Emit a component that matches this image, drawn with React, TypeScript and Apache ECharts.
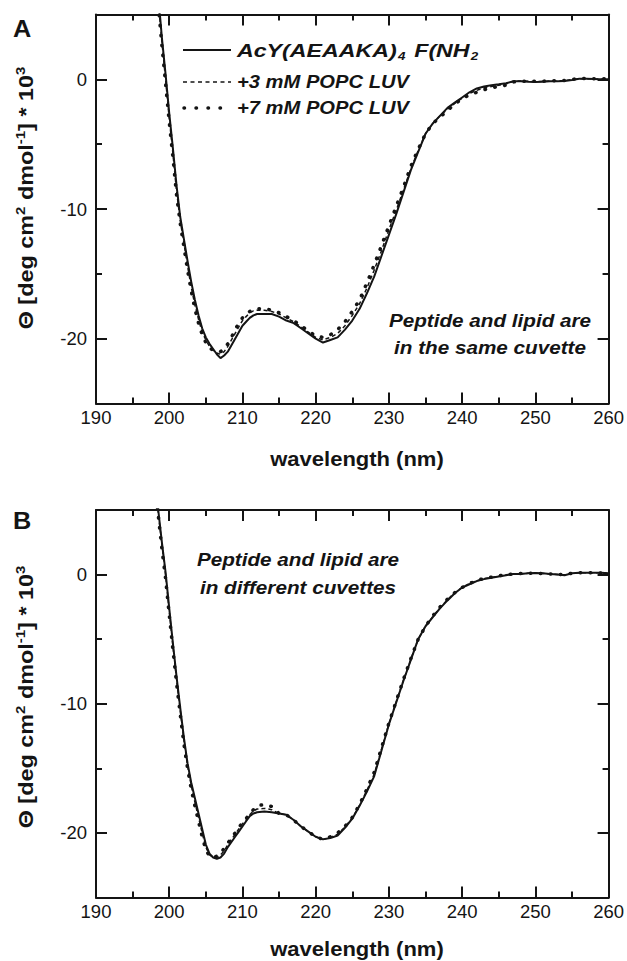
import React, { useEffect, useRef } from "react";
import * as echarts from "echarts";

// wavelength (nm)
const wavelengths = [
  198, 198.5, 199, 199.5, 200, 200.5, 201, 201.5, 202, 202.5, 203, 203.5, 204, 204.5, 205, 205.5,
  206, 206.5, 207, 207.5, 208, 208.5, 209, 209.5, 210, 210.5, 211, 211.5, 212,
  213, 214, 215, 216, 217, 218, 219, 220, 221, 222, 223, 224, 225, 226, 227, 228, 229, 230,
  231, 232, 233, 234, 235, 236, 237, 238, 239, 240, 241, 242, 243, 244, 245, 246, 247, 248,
  249, 250, 251, 252, 253, 254, 255, 256, 257, 258, 259, 260,
];

// Panel A: peptide and lipid in the same cuvette
const peptideA = [
  9, 6.5, 3.2, 0.4, -2.6, -5.3, -8.2, -10.6, -12.3, -14.0, -15.6, -17.0, -18.2, -19.2, -19.9, -20.4,
  -20.8, -21.2, -21.5, -21.3, -21.0, -20.5, -20.0, -19.5, -19.0, -18.7, -18.4, -18.2, -18.1,
  -18.1, -18.1, -18.3, -18.6, -18.8, -19.2, -19.6, -20.0, -20.3, -20.1, -19.9, -19.3, -18.6, -17.7, -16.5, -15.2, -13.6, -12.0,
  -10.4, -8.7, -7.0, -5.6, -4.2, -3.4, -2.8, -2.2, -1.8, -1.4, -1.0, -0.7, -0.55, -0.45, -0.38, -0.3, -0.15, -0.15,
  -0.18, -0.2, -0.18, -0.15, -0.15, -0.12, -0.05, 0.05, 0.05, 0.02, 0.0, 0.0,
];
const popc3A = [
  8.5, 6.1, 2.9, 0.0, -3.0, -5.7, -8.6, -10.9, -12.6, -14.4, -16.0, -17.4, -18.5, -19.5, -20.1, -20.6,
  -20.9, -21.1, -21.2, -21.0, -20.6, -20.1, -19.6, -19.1, -18.6, -18.3, -18.0, -17.85, -17.8,
  -17.8, -17.9, -18.1, -18.4, -18.7, -19.1, -19.5, -19.9, -20.1, -19.9, -19.6, -19.0, -18.2, -17.3, -16.1, -14.7, -13.2, -11.6,
  -10.1, -8.5, -6.9, -5.5, -4.2, -3.4, -2.8, -2.3, -1.85, -1.45, -1.1, -0.85, -0.65, -0.55, -0.45, -0.35, -0.15, -0.12,
  -0.15, -0.18, -0.15, -0.12, -0.12, -0.1, -0.02, 0.05, 0.05, 0.03, 0.02, 0.02,
];
const popc7A = [
  8, 5.8, 2.6, -0.3, -3.3, -6.0, -8.9, -11.1, -12.9, -14.7, -16.3, -17.7, -18.8, -19.7, -20.3, -20.7,
  -20.9, -21.0, -21.0, -20.8, -20.4, -19.9, -19.3, -18.8, -18.4, -18.1, -17.9, -17.75, -17.7,
  -17.7, -17.8, -18.0, -18.3, -18.6, -19.0, -19.4, -19.8, -19.9, -19.7, -19.3, -18.7, -17.9, -17.0, -15.7, -14.3, -12.8, -11.3,
  -9.8, -8.3, -6.7, -5.4, -4.2, -3.4, -2.9, -2.4, -1.9, -1.5, -1.2, -1.0, -0.8, -0.65, -0.55, -0.45, -0.2, -0.15,
  -0.15, -0.15, -0.15, -0.1, -0.1, -0.08, 0.0, 0.05, 0.08, 0.05, 0.05, 0.05,
];

// Panel B: peptide and lipid in different cuvettes
const peptideB = [
  8, 5, 2.5, 0.2, -2.6, -5.3, -7.9, -10.3, -12.6, -14.6, -16.1, -17.3, -18.5, -19.7, -20.9, -21.6,
  -21.9, -22.0, -21.9, -21.6, -21.1, -20.7, -20.3, -19.9, -19.5, -19.1, -18.7, -18.5, -18.4,
  -18.35, -18.4, -18.5, -18.6, -19.0, -19.5, -19.9, -20.3, -20.5, -20.4, -20.2, -19.6, -18.9, -17.9, -16.8, -15.6, -13.6, -11.6,
  -9.9, -8.2, -6.6, -5.0, -4.0, -3.3, -2.6, -2.0, -1.45, -1.0, -0.75, -0.5, -0.35, -0.25, -0.15, -0.05, 0.05, 0.05,
  0.1, 0.12, 0.1, 0.05, 0.0, -0.05, 0.1, 0.15, 0.15, 0.15, 0.15, 0.1,
];
const popc3B = [
  7.8, 4.8, 2.3, 0.0, -2.8, -5.5, -8.1, -10.5, -12.8, -14.8, -16.3, -17.6, -18.8, -20.0, -21.1, -21.7,
  -21.9, -21.9, -21.7, -21.4, -20.9, -20.5, -20.1, -19.7, -19.3, -19.0, -18.6, -18.3, -18.15,
  -18.1, -18.2, -18.5, -18.6, -19.0, -19.5, -19.9, -20.3, -20.5, -20.35, -20.1, -19.55, -18.85, -17.85, -16.7, -15.45, -13.5, -11.55,
  -9.85, -8.15, -6.55, -5.0, -4.0, -3.25, -2.55, -1.95, -1.4, -1.0, -0.7, -0.48, -0.32, -0.22, -0.12, -0.02, 0.05, 0.06,
  0.1, 0.11, 0.09, 0.05, 0.01, -0.02, 0.1, 0.15, 0.15, 0.15, 0.13, 0.1,
];
const popc7B = [
  7.5, 4.6, 2.0, -0.3, -3.1, -5.8, -8.4, -10.8, -13.1, -15.0, -16.6, -17.9, -19.1, -20.3, -21.3, -21.8,
  -21.9, -21.8, -21.6, -21.2, -20.8, -20.4, -20.0, -19.6, -19.2, -18.9, -18.5, -18.2, -17.9,
  -17.8, -17.95, -18.5, -18.6, -19.0, -19.5, -19.9, -20.3, -20.5, -20.3, -20.0, -19.5, -18.8, -17.8, -16.6, -15.3, -13.4, -11.5,
  -9.8, -8.1, -6.5, -5.0, -4.0, -3.2, -2.5, -1.9, -1.4, -1.0, -0.7, -0.45, -0.3, -0.2, -0.1, 0.0, 0.05, 0.08,
  0.1, 0.1, 0.08, 0.05, 0.02, 0.0, 0.1, 0.15, 0.15, 0.15, 0.12, 0.1,
];

const yMajorTicks = [-20, -10, 0];
const yMinorTicks = [-15, -5];
const legendLabels = ["AcY(AEAAKA){sub|4} F(NH{sub|2}", "+3 mM POPC LUV", "+7 mM POPC LUV"];
const yAxisTitle = "Θ [deg cm{sup|2} dmol{sup|-1}] * 10{sup|3}";

const FONT = '"Liberation Sans", Arial, Helvetica, sans-serif';
const INK = "#141414";

const pairs = (ys: number[]) => wavelengths.map((x, i) => [x, ys[i]]);

function makeXAxes(gi: number) {
  const base = {
    gridIndex: gi,
    type: "value",
    min: 190,
    max: 260,
    interval: 10,
    axisLine: { show: true, onZero: false, lineStyle: { color: INK, width: 2 } },
    axisTick: { show: true, inside: true, length: 11, lineStyle: { color: INK, width: 2 } },
    minorTick: { show: true, splitNumber: 2, length: 6, lineStyle: { color: INK, width: 2 } },
    splitLine: { show: false },
    minorSplitLine: { show: false },
  };
  return [
    {
      ...base,
      position: "bottom",
      axisLabel: {
        show: true,
        fontSize: 18.5,
        fontFamily: FONT,
        color: INK,
        margin: 4,
        showMinLabel: true,
        showMaxLabel: true,
      },
    },
    { ...base, position: "top", axisLabel: { show: false } },
  ];
}

function makeYAxes(gi: number) {
  const line = { show: true, onZero: false, lineStyle: { color: INK, width: 2 } };
  const base = { gridIndex: gi, type: "value", min: -25, max: 5, splitLine: { show: false } };
  const major = (pos: string, label: boolean) => ({
    ...base,
    position: pos,
    axisLine: line,
    axisTick: {
      show: true,
      inside: true,
      length: 11,
      customValues: yMajorTicks,
      lineStyle: { color: INK, width: 2 },
    },
    axisLabel: label
      ? {
          show: true,
          customValues: yMajorTicks,
          fontSize: 18.5,
          fontFamily: FONT,
          color: INK,
          margin: 9,
        }
      : { show: false },
  });
  const minor = (pos: string) => ({
    ...base,
    position: pos,
    axisLine: { show: false },
    axisTick: {
      show: true,
      inside: true,
      length: 6,
      customValues: yMinorTicks,
      lineStyle: { color: INK, width: 2 },
    },
    axisLabel: { show: false },
  });
  return [major("left", true), minor("left"), major("right", false), minor("right")];
}

function series(data: number[], kind: string, xi: number, yi: number) {
  const ls: any = { color: INK };
  if (kind === "solid") {
    ls.width = 2;
    ls.type = "solid";
  } else if (kind === "dashed") {
    ls.width = 1.5;
    ls.type = [4, 3];
  } else {
    ls.width = 3.5;
    ls.type = [0.5, 9.5];
    ls.cap = "round";
  }
  return {
    type: "line",
    xAxisIndex: xi,
    yAxisIndex: yi,
    data: pairs(data),
    showSymbol: false,
    symbol: "none",
    clip: true,
    lineStyle: ls,
    z: kind === "solid" ? 4 : 3,
  };
}

function txt(x: number, y: number, text: string, extra: any = {}, align = "center", scaleX = 1.15) {
  return {
    type: "text",
    x,
    y,
    scaleX,
    style: {
      text,
      fill: INK,
      fontFamily: FONT,
      fontWeight: "bold",
      fontSize: 18,
      textAlign: align,
      align,
      textVerticalAlign: "middle",
      verticalAlign: "middle",
      ...extra,
    },
  };
}

export default function App() {
  const ref = useRef<HTMLDivElement>(null);
  useEffect(() => {
    if (!ref.current) return;
    const chart = echarts.init(ref.current, undefined, { renderer: "svg" });
    const legendRich = {
      sub: {
        fontSize: 11,
        fontWeight: "bold",
        fontStyle: "italic",
        fontFamily: FONT,
        fill: INK,
        verticalAlign: "bottom",
        lineHeight: 11,
        padding: [0, 2, 0, 1],
      },
    };
    const supRich = {
      sup: {
        fontSize: 12.5,
        fontWeight: "bold",
        fontFamily: FONT,
        fill: INK,
        verticalAlign: "top",
        lineHeight: 12,
      },
    };
    const yTitleStyle = { fontSize: 19.5, lineHeight: 25, rich: supRich };
    const graphic: any[] = [
      txt(22, 29, "A", { fontSize: 23 }, "center", 1.1),
      txt(22, 521, "B", { fontSize: 23 }, "center", 1.1),
      { ...txt(27, 198, yAxisTitle, yTitleStyle, "center", 1.2), rotation: Math.PI / 2 },
      { ...txt(27, 697, yAxisTitle, yTitleStyle, "center", 1.2), rotation: Math.PI / 2 },
      txt(357, 459, "wavelength (nm)", { fontSize: 20 }, "center", 1.1),
      txt(357, 949, "wavelength (nm)", { fontSize: 20 }, "center", 1.1),
      // legend samples
      { type: "line", shape: { x1: 183, y1: 50, x2: 231, y2: 50 }, style: { stroke: INK, lineWidth: 2 } },
      {
        type: "line",
        shape: { x1: 183, y1: 82, x2: 231, y2: 82 },
        style: { stroke: INK, lineWidth: 1.5, lineDash: [4, 3.5] },
      },
      {
        type: "line",
        shape: { x1: 184, y1: 108, x2: 231, y2: 108 },
        style: { stroke: INK, lineWidth: 3.5, lineDash: [0.5, 11.5], lineCap: "round" },
      },
      txt(237, 50, legendLabels[0], { fontSize: 19, fontStyle: "italic", lineHeight: 24, rich: legendRich }, "left", 1.22),
      txt(237, 82, legendLabels[1], { fontStyle: "italic" }, "left", 1.12),
      txt(237, 108, legendLabels[2], { fontStyle: "italic" }, "left", 1.12),
      // annotations
      txt(490, 321, "Peptide and lipid are", { fontStyle: "italic" }),
      txt(490, 348, "in the same cuvette", { fontStyle: "italic" }),
      txt(298, 560, "Peptide and lipid are", { fontStyle: "italic" }),
      txt(298, 588, "in different cuvettes", { fontStyle: "italic" }),
    ];
    chart.setOption({
      animation: false,
      backgroundColor: "#ffffff",
      grid: [
        { left: 96, top: 14.5, width: 515, height: 389, containLabel: false },
        { left: 96, top: 510, width: 515, height: 387.5, containLabel: false },
      ],
      xAxis: [...makeXAxes(0), ...makeXAxes(1)],
      yAxis: [...makeYAxes(0), ...makeYAxes(1)],
      series: [
        series(popc7A, "dotted", 0, 0),
        series(popc3A, "dashed", 0, 0),
        series(peptideA, "solid", 0, 0),
        series(popc7B, "dotted", 2, 4),
        series(popc3B, "dashed", 2, 4),
        series(peptideB, "solid", 2, 4),
      ],
      graphic,
    });
    return () => chart.dispose();
  }, []);
  return (
    <div
      ref={ref}
      style={{ position: "absolute", left: 0, top: 0, width: 627, height: 961, background: "#fff" }}
    />
  );
}
